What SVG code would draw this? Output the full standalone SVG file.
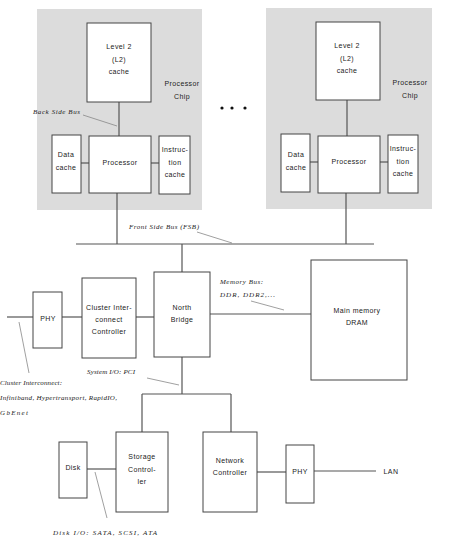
<svg xmlns="http://www.w3.org/2000/svg" width="450" height="554" viewBox="0 0 450 554">
<style>
.chip{fill:#dcdcdc;stroke:none}
.box{fill:#fff;stroke:#444;stroke-width:1}
.t{font-family:"Liberation Sans",Arial,sans-serif;font-size:7px;fill:#222;text-anchor:middle;letter-spacing:0.4px}
.lbl{font-family:"Liberation Serif","Times New Roman",serif;font-size:7px;font-style:italic;fill:#222}
.ln{stroke:#555;stroke-width:1.2;fill:none}
.ld{stroke:#888;stroke-width:0.8;fill:none}
</style>
<rect width="450" height="554" fill="#fff"/>
<g id="chip1">
<rect class="chip" x="37" y="9" width="165" height="201"/>
<text class="t" x="182" y="86">Processor</text>
<text class="t" x="182" y="99">Chip</text>
</g>
<g id="chip2">
<rect class="chip" x="266" y="8" width="166" height="201"/>
<text class="t" x="410" y="85">Processor</text>
<text class="t" x="410" y="98">Chip</text>
</g>
<g id="connectors">
<line class="ln" x1="119" y1="102" x2="119" y2="136"/>
<line class="ln" x1="81" y1="163" x2="89" y2="163"/>
<line class="ln" x1="151" y1="163" x2="159" y2="163"/>
<line class="ln" x1="117" y1="193" x2="117" y2="244"/>
<line class="ln" x1="347" y1="100" x2="347" y2="136"/>
<line class="ln" x1="310" y1="162" x2="318" y2="162"/>
<line class="ln" x1="380" y1="162" x2="388" y2="162"/>
<line class="ln" x1="346" y1="193" x2="346" y2="244"/>
<line class="ln" x1="76" y1="244" x2="374" y2="244"/>
<line class="ln" x1="182" y1="244" x2="182" y2="272"/>
<line class="ln" x1="210" y1="314" x2="311" y2="314"/>
<line class="ln" x1="7" y1="317" x2="33" y2="317"/>
<line class="ln" x1="62" y1="317" x2="82" y2="317"/>
<line class="ln" x1="136" y1="317" x2="154" y2="317"/>
<line class="ln" x1="182" y1="357" x2="182" y2="394"/>
<line class="ln" x1="142" y1="394" x2="231" y2="394"/>
<line class="ln" x1="142" y1="394" x2="142" y2="432"/>
<line class="ln" x1="231" y1="394" x2="231" y2="432"/>
<line class="ln" x1="87" y1="469" x2="116" y2="469"/>
<line class="ln" x1="257" y1="472" x2="286" y2="472"/>
<line class="ln" x1="314" y1="471" x2="376" y2="471"/>
<line class="ld" x1="83" y1="115" x2="117" y2="126"/>
<line class="ld" x1="197" y1="232" x2="232" y2="243"/>
<line class="ld" x1="251" y1="301" x2="284" y2="310"/>
<line class="ld" x1="19" y1="322" x2="29" y2="373"/>
<line class="ld" x1="147" y1="378" x2="179" y2="385"/>
<line class="ld" x1="95" y1="472" x2="107" y2="518"/>
</g>
<g id="l2cache1"><rect class="box" x="87" y="23" width="64" height="79"/>
<text class="t" x="119" y="49">Level 2</text><text class="t" x="119" y="62">(L2)</text><text class="t" x="119" y="74">cache</text></g>
<g id="datacache1"><rect class="box" x="52" y="135" width="29" height="58"/>
<text class="t" x="66" y="157">Data</text><text class="t" x="66" y="170">cache</text></g>
<g id="processor1"><rect class="box" x="89" y="136" width="62" height="57"/>
<text class="t" x="120" y="165">Processor</text></g>
<g id="icache1"><rect class="box" x="159" y="136" width="31" height="58"/>
<text class="t" x="175" y="152">Instruc-</text><text class="t" x="175" y="165">tion</text><text class="t" x="175" y="177">cache</text></g>
<g id="l2cache2"><rect class="box" x="316" y="22" width="64" height="78"/>
<text class="t" x="347" y="48">Level 2</text><text class="t" x="347" y="61">(L2)</text><text class="t" x="347" y="73">cache</text></g>
<g id="datacache2"><rect class="box" x="281" y="134" width="29" height="58"/>
<text class="t" x="296" y="157">Data</text><text class="t" x="296" y="170">cache</text></g>
<g id="processor2"><rect class="box" x="318" y="136" width="62" height="57"/>
<text class="t" x="349" y="164">Processor</text></g>
<g id="icache2"><rect class="box" x="388" y="135" width="30" height="58"/>
<text class="t" x="403" y="151">Instruc-</text><text class="t" x="403" y="164">tion</text><text class="t" x="403" y="176">cache</text></g>
<g id="dots" fill="#111">
<circle cx="222" cy="108" r="1.6"/><circle cx="232" cy="108" r="1.6"/><circle cx="245" cy="108" r="1.6"/>
</g>
<g id="northbridge"><rect class="box" x="154" y="272" width="56" height="85"/>
<text class="t" x="182" y="310">North</text><text class="t" x="182" y="322">Bridge</text></g>
<g id="cic"><rect class="box" x="82" y="278" width="54" height="80"/>
<text class="t" x="109" y="310">Cluster Inter-</text><text class="t" x="109" y="322">connect</text><text class="t" x="109" y="334">Controller</text></g>
<g id="phy1"><rect class="box" x="33" y="292" width="29" height="56"/>
<text class="t" x="48" y="321">PHY</text></g>
<g id="mainmem"><rect class="box" x="311" y="260" width="96" height="120"/>
<text class="t" x="357" y="313">Main memory</text><text class="t" x="357" y="325">DRAM</text></g>
<g id="storage"><rect class="box" x="116" y="432" width="52" height="80"/>
<text class="t" x="142" y="459">Storage</text><text class="t" x="142" y="472">Control-</text><text class="t" x="142" y="484">ler</text></g>
<g id="disk"><rect class="box" x="59" y="442" width="28" height="56"/>
<text class="t" x="73" y="470">Disk</text></g>
<g id="netctrl"><rect class="box" x="203" y="432" width="54" height="80"/>
<text class="t" x="230" y="463">Network</text><text class="t" x="230" y="475">Controller</text></g>
<g id="phy2"><rect class="box" x="286" y="445" width="28" height="58"/>
<text class="t" x="300" y="474">PHY</text></g>
<g id="labels">
<text class="lbl" x="33" y="114" textLength="47">Back Side Bus</text>
<text class="lbl" x="129" y="229" textLength="70">Front Side Bus (FSB)</text>
<text class="lbl" x="220" y="284" textLength="43">Memory Bus:</text>
<text class="lbl" x="220" y="297" textLength="55">DDR, DDR2,...</text>
<text class="lbl" x="87" y="374" textLength="48">System I/O: PCI</text>
<text class="lbl" x="0" y="385" textLength="62">Cluster Interconnect:</text>
<text class="lbl" x="0" y="400" textLength="117">Infiniband, Hypertransport, RapidIO,</text>
<text class="lbl" x="0" y="415" textLength="28">GbEnet</text>
<text class="lbl" x="53" y="535" textLength="104">Disk I/O: SATA, SCSI, ATA</text>
<text class="t" x="391" y="474">LAN</text>
</g>
</svg>
